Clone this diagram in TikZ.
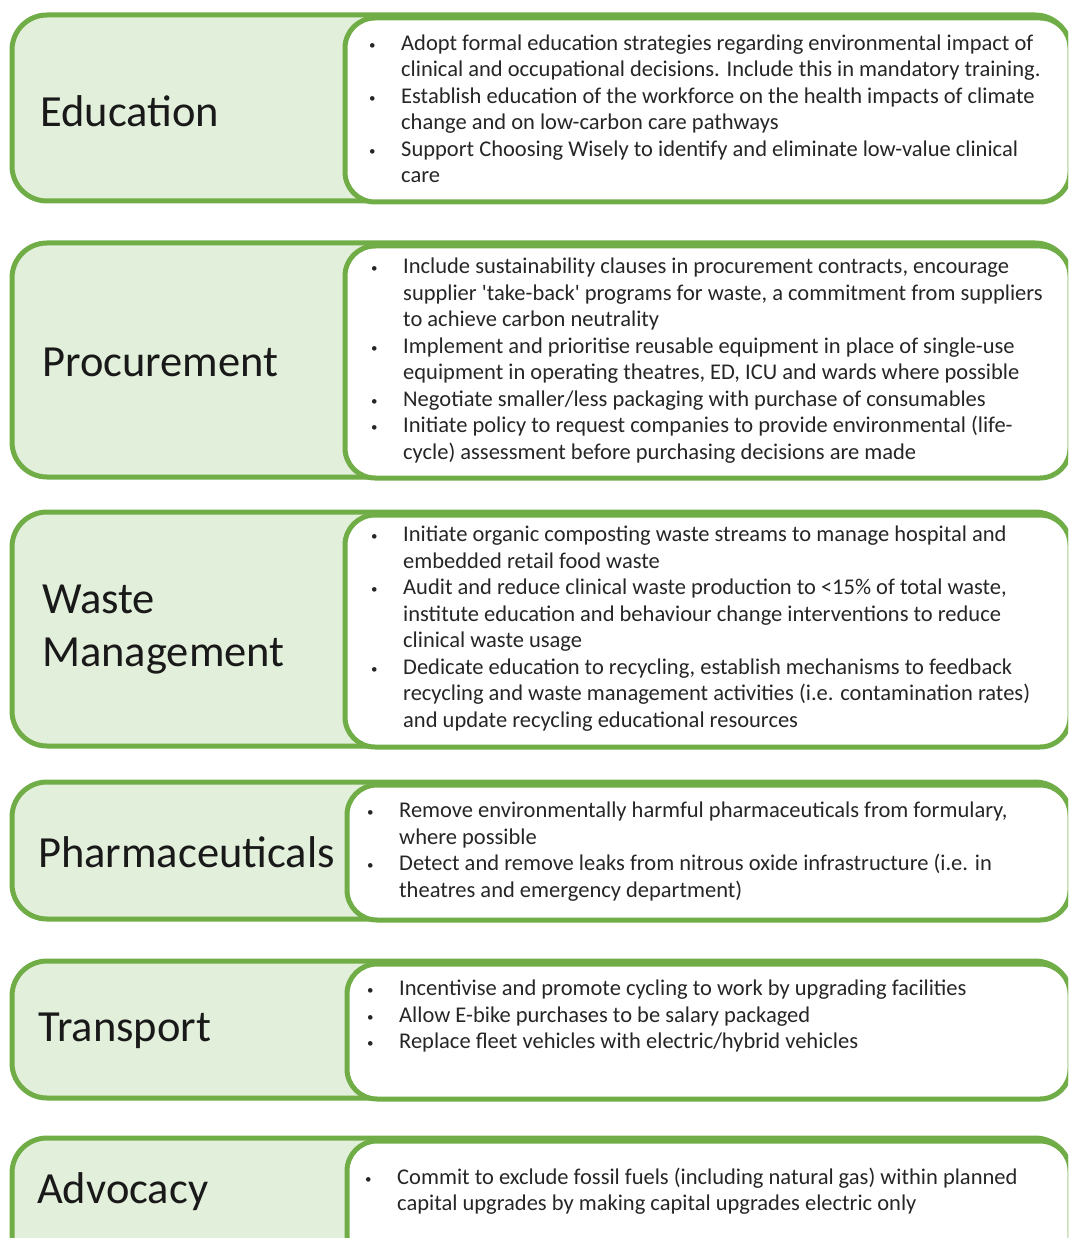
\documentclass[tikz,border=0pt]{standalone}
\usepackage{fontspec}
\setmainfont{Carlito}[Ligatures=TeXOff]
\usepackage{tikz}
\usepackage{xcolor}
\definecolor{leafgreen}{HTML}{70AD47}
\definecolor{palegreen}{HTML}{E2EFDA}
\newcommand{\dotmark}{\raisebox{1pt}{\fontsize{13}{13}\selectfont\textbullet}}
\tikzset{
    area-box/.style = {draw=leafgreen, fill=palegreen, line width=5pt, rounded corners=35pt},
    list-box/.style = {draw=leafgreen, fill=white, line width=5pt, rounded corners=30pt},
    area-title/.style = {anchor=west, inner sep=0pt, align=left, text=black!90, font=\fontsize{44.5}{53}\selectfont},
    action-list/.style = {anchor=west, inner sep=0pt, text=black!85, font=\fontsize{22.5}{26.5}\selectfont},
}

\begin{document}
\begin{tikzpicture}[x=1pt, y=-1pt]
\useasboundingbox (0,0) rectangle (1068,1238);
\clip (0,0) rectangle (1068,1238);

% Education
\draw[area-box] (12,15) rectangle (1070,201);
\draw[list-box] (345,18) rectangle (1070,202);
\node[area-title] (education) at (40,111) {Education};
\node[action-list] (education-list) at (369,111) {\begin{tabular}{@{}p{32pt}@{}l@{}}
\dotmark & Adopt formal education strategies regarding environmental impact of\\
 & clinical and occupational decisions. Include this in mandatory training.\\
\dotmark & Establish education of the workforce on the health impacts of climate\\
 & change and on low-carbon care pathways\\
\dotmark & Support Choosing Wisely to identify and eliminate low-value clinical\\
 & care
\end{tabular}};

% Procurement
\draw[area-box] (12,243) rectangle (1070,477);
\draw[list-box] (345,246) rectangle (1070,478);
\node[area-title] (procurement) at (42,362) {Procurement};
\node[action-list] (procurement-list) at (371,361) {\begin{tabular}{@{}p{32pt}@{}l@{}}
\dotmark & Include sustainability clauses in procurement contracts, encourage\\
 & supplier 'take-back' programs for waste, a commitment from suppliers\\
 & to achieve carbon neutrality\\
\dotmark & Implement and prioritise reusable equipment in place of single-use\\
 & equipment in operating theatres, ED, ICU and wards where possible\\
\dotmark & Negotiate smaller/less packaging with purchase of consumables\\
\dotmark & Initiate policy to request companies to provide environmental (life-\\
 & cycle) assessment before purchasing decisions are made
\end{tabular}};

% Waste management
\draw[area-box] (12,512) rectangle (1070,746);
\draw[list-box] (345,515) rectangle (1070,747);
\node[area-title] (waste) at (42,630) {Waste\\Management};
\node[action-list] (waste-list) at (371,629) {\begin{tabular}{@{}p{32pt}@{}l@{}}
\dotmark & Initiate organic composting waste streams to manage hospital and\\
 & embedded retail food waste\\
\dotmark & Audit and reduce clinical waste production to <15\% of total waste,\\
 & institute education and behaviour change interventions to reduce\\
 & clinical waste usage\\
\dotmark & Dedicate education to recycling, establish mechanisms to feedback\\
 & recycling and waste management activities (i.e. contamination rates)\\
 & and update recycling educational resources
\end{tabular}};

% Pharmaceuticals
\draw[area-box] (12,782) rectangle (1070,919);
\draw[list-box] (347,785) rectangle (1070,920);
\node[area-title] (pharma) at (38,852) {Pharmaceuticals};
\node[action-list] (pharma-list) at (367,852) {\begin{tabular}{@{}p{32pt}@{}l@{}}
\dotmark & Remove environmentally harmful pharmaceuticals from formulary,\\
 & where possible\\
\dotmark & Detect and remove leaks from nitrous oxide infrastructure (i.e. in\\
 & theatres and emergency department)
\end{tabular}};

% Transport
\draw[area-box] (12,961) rectangle (1070,1098);
\draw[list-box] (347,964) rectangle (1070,1099);
\node[area-title] (transport) at (38,1031) {Transport};
\node[action-list] (transport-list) at (367,1017) {\begin{tabular}{@{}p{32pt}@{}l@{}}
\dotmark & Incentivise and promote cycling to work by upgrading facilities\\
\dotmark & Allow E-bike purchases to be salary packaged\\
\dotmark & Replace fleet vehicles with electric/hybrid vehicles
\end{tabular}};

% Advocacy
\draw[area-box] (12,1138) rectangle (1070,1290);
\draw[list-box] (347,1141) rectangle (1070,1291);
\node[area-title] (advocacy) at (37,1192) {Advocacy};
\node[action-list] (advocacy-list) at (365,1192) {\begin{tabular}{@{}p{32pt}@{}l@{}}
\dotmark & Commit to exclude fossil fuels (including natural gas) within planned\\
 & capital upgrades by making capital upgrades electric only
\end{tabular}};
\end{tikzpicture}
\end{document}
